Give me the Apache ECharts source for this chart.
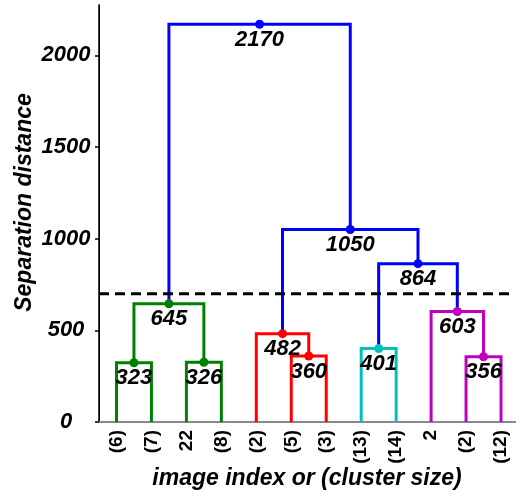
<!DOCTYPE html>
<html>
<head>
<meta charset="utf-8">
<script src="https://cdn.jsdelivr.net/npm/echarts@6/dist/echarts.min.js"></script>
<style>
  html, body { margin: 0; padding: 0; background: #fff; }
  #chart { width: 519px; height: 492px; }
</style>
</head>
<body>
<div id="chart"></div>
<script>
// Leaf labels, left to right: image index or (cluster size)
const leafLabels = ['(6)', '(7)', '22', '(8)', '(2)', '(5)', '(3)', '(13)', '(14)', '2', '(2)', '(12)'];

// Linkage rows: pairs of merged node ids (leaves are 0..11, merges 12..22)
const mergeLeft  = [0, 2, 12, 5, 4, 7, 10, 9, 17, 16, 14];
const mergeRight = [1, 3, 13, 6, 15, 8, 11, 18, 19, 20, 21];
// Separation distance at each merge
const mergeHeight = [323, 326, 645, 360, 482, 401, 356, 603, 864, 1050, 2170];
// Colour group of each merge link
const mergeGroup = ['g', 'g', 'g', 'r', 'r', 'c', 'm', 'm', 'b', 'b', 'b'];

// Cut level
const threshold = 700;
// Y axis ticks
const yTicks = [0, 500, 1000, 1500, 2000];

const palette = { g: '#008000', r: '#ff0000', c: '#00bfbf', m: '#bf00bf', b: '#0000ff' };

// Leaf positions follow the usual dendrogram spacing: 5, 15, 25, ...
const nodeX = leafLabels.map((_, i) => 5 + 10 * i);
const nodeY = leafLabels.map(() => 0);
mergeHeight.forEach((h, k) => {
  const a = mergeLeft[k], b = mergeRight[k];
  nodeX.push((nodeX[a] + nodeX[b]) / 2);
  nodeY.push(h);
});

const font = 'Liberation Sans, Arial, sans-serif';

const series = [];
mergeHeight.forEach((h, k) => {
  const a = mergeLeft[k], b = mergeRight[k];
  series.push({
    type: 'line',
    data: [[nodeX[a], nodeY[a]], [nodeX[a], h], [nodeX[b], h], [nodeX[b], nodeY[b]]],
    showSymbol: false,
    symbol: 'none',
    lineStyle: { color: palette[mergeGroup[k]], width: 3, join: 'miter' },
    z: 2,
    silent: true,
    animation: false
  });
});

// Merge dots with their distance labels
series.push({
  type: 'scatter',
  data: mergeHeight.map((h, k) => ({
    value: [nodeX[12 + k], h],
    itemStyle: { color: palette[mergeGroup[k]], opacity: 1 }
  })),
  symbolSize: 9,
  z: 4,
  itemStyle: { opacity: 1 },
  label: {
    show: true,
    position: 'bottom',
    distance: 0,
    formatter: p => String(p.value[1]),
    color: '#000',
    opacity: 1,
    fontFamily: font,
    fontStyle: 'italic',
    fontWeight: 'bold',
    fontSize: 22
  },
  animation: false
});

// Dashed cut line
series.push({
  type: 'line',
  data: [[0, threshold], [119, threshold]],
  symbol: 'none',
  lineStyle: { color: '#000', width: 3, type: [10, 6] },
  z: 3,
  silent: true,
  animation: false
});

const titleStyle = { color: '#000', fontFamily: font, fontStyle: 'italic', fontWeight: 'bold', fontSize: 23 };

const chart = echarts.init(document.getElementById('chart'), null, { renderer: 'canvas' });
chart.setOption({
  backgroundColor: '#fff',
  animation: false,
  grid: { left: 99, right: 4, top: 5, bottom: 70, containLabel: false, outerBoundsMode: 'none' },
  xAxis: [{
    type: 'value',
    min: 0,
    max: 119,
    position: 'bottom',
    name: 'image index or (cluster size)',
    nameLocation: 'middle',
    nameMoveOverlap: false,
    nameGap: 45,
    nameTextStyle: titleStyle,
    splitLine: { show: false },
    axisLine: { show: true, lineStyle: { color: '#000', width: 1.5 } },
    axisTick: { show: false },
    axisLabel: {
      customValues: leafLabels.map((_, i) => 5 + 10 * i),
      formatter: v => leafLabels[Math.round((v - 5) / 10)],
      rotate: 90,
      margin: 8,
      color: '#000',
      fontFamily: font,
      fontWeight: 'bold',
      fontSize: 19
    }
  }, {
    type: 'value',
    min: 0,
    max: 119,
    position: 'top',
    splitLine: { show: false },
    axisLine: { show: true, lineStyle: { color: '#888', width: 2 } },
    axisTick: { show: false },
    axisLabel: { show: false }
  }],
  yAxis: [{
    type: 'value',
    min: 0,
    max: 2275,
    position: 'left',
    name: 'Separation distance',
    nameLocation: 'middle',
    nameMoveOverlap: false,
    nameGap: 63,
    nameRotate: 90,
    nameTextStyle: Object.assign({ padding: [0, 0, 0, 22] }, titleStyle),
    splitLine: { show: false },
    axisLine: { show: true, lineStyle: { color: '#000', width: 1.5 } },
    axisTick: { show: true, inside: false, length: 4, customValues: yTicks, lineStyle: { color: '#000', width: 1.5 } },
    axisLabel: {
      customValues: yTicks,
      formatter: v => String(v),
      align: 'center',
      margin: 33,
      color: '#000',
      fontFamily: font,
      fontStyle: 'italic',
      fontWeight: 'bold',
      fontSize: 22
    }
  }, {
    type: 'value',
    min: 0,
    max: 2275,
    position: 'right',
    splitLine: { show: false },
    axisLine: { show: true, lineStyle: { color: '#000', width: 1 } },
    axisTick: { show: false },
    axisLabel: { show: false }
  }],
  series: series
});
</script>
</body>
</html>
